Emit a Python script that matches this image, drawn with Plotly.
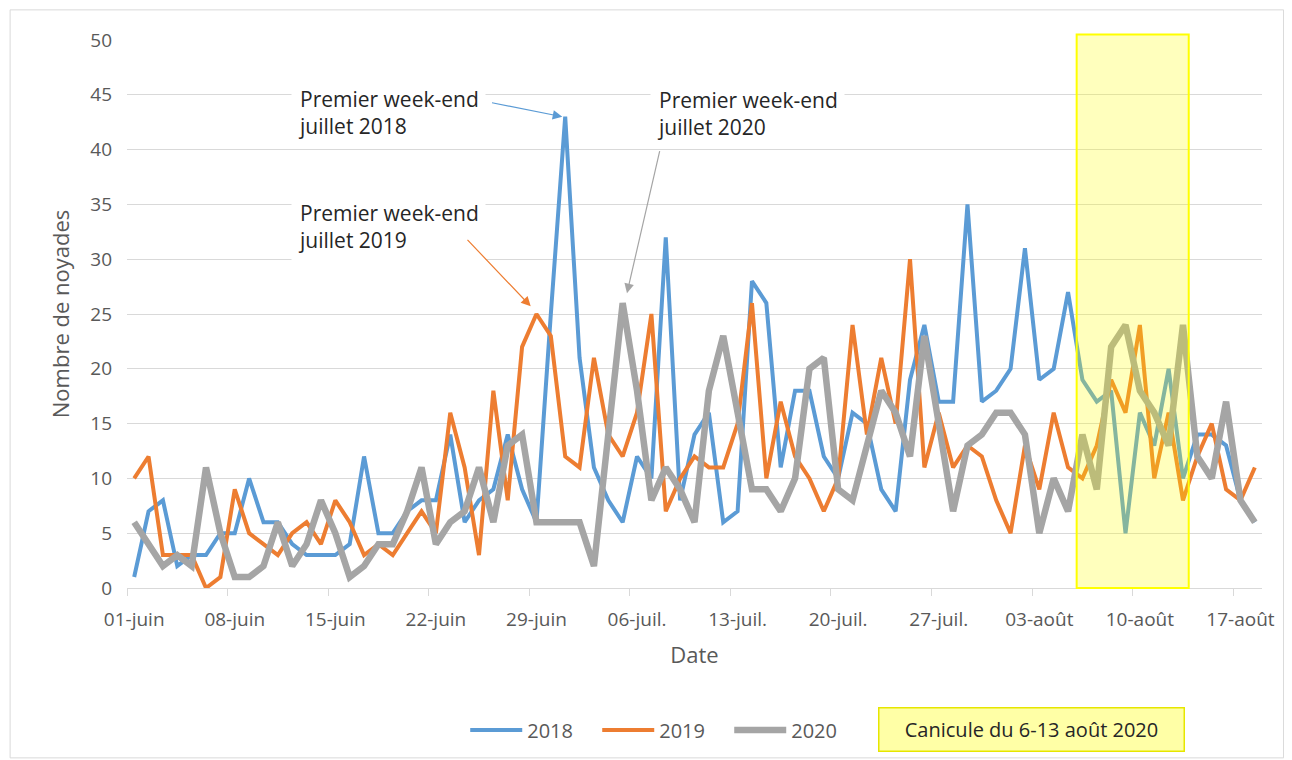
import plotly.graph_objects as go

# ---- data ----
tick_labels = ["01-juin", "08-juin", "15-juin", "22-juin", "29-juin", "06-juil.",
               "13-juil.", "20-juil.", "27-juil.", "03-août", "10-août", "17-août"]

y2018 = [1, 7, 8, 2, 3, 3, 5, 5, 10, 6, 6, 4, 3, 3, 3, 4, 12, 5, 5, 7,
         8, 8, 14, 6, 8, 9, 14, 9, 6, 25, 43, 21, 11, 8, 6, 12, 10, 32, 8, 14,
         16, 6, 7, 28, 26, 11, 18, 18, 12, 10, 16, 15, 9, 7, 19, 24, 17, 17, 35, 17,
         18, 20, 31, 19, 20, 27, 19, 17, 18, 5, 16, 13, 20, 10, 14, 14, 13, 8, 6]
y2019 = [10, 12, 3, 3, 3, 0, 1, 9, 5, 4, 3, 5, 6, 4, 8, 6, 3, 4, 3, 5,
         7, 5, 16, 11, 3, 18, 8, 22, 25, 23, 12, 11, 21, 14, 12, 16, 25, 7, 10, 12,
         11, 11, 15, 26, 10, 17, 12, 10, 7, 10, 24, 14, 21, 15, 30, 11, 16, 11, 13, 12,
         8, 5, 13, 9, 16, 11, 10, 13, 19, 16, 24, 10, 16, 8, 12, 15, 9, 8, 11]
y2020 = [6, 4, 2, 3, 2, 11, 5, 1, 1, 2, 6, 2, 4, 8, 5, 1, 2, 4, 4, 7,
         11, 4, 6, 7, 11, 6, 13, 14, 6, 6, 6, 6, 2, 14, 26, 18, 8, 11, 9, 6,
         18, 23, 16, 9, 9, 7, 10, 20, 21, 9, 8, 13, 18, 16, 12, 23, 15, 7, 13, 14,
         16, 16, 14, 5, 10, 7, 14, 9, 22, 24, 18, 16, 13, 24, 12, 10, 17, 8, 6]

days = list(range(len(y2018)))
tick_days = [7 * k for k in range(len(tick_labels))]
boundary_days = [7 * k - 0.5 for k in range(len(tick_labels) + 1)]
heat_start, heat_end = 65.6, 73.4

FONT = "Open Sans"
TXT = "#595959"

fig = go.Figure()
fig.add_trace(go.Scatter(x=days, y=y2018, name="2018", mode="lines",
                         line=dict(color="#5B9BD5", width=4)))
fig.add_trace(go.Scatter(x=days, y=y2019, name="2019", mode="lines",
                         line=dict(color="#ED7D31", width=4)))
fig.add_trace(go.Scatter(x=days, y=y2020, name="2020", mode="lines",
                         line=dict(color="#A5A5A5", width=6.5)))

# heat-wave box
fig.add_shape(type="rect", xref="x", yref="paper", x0=heat_start, x1=heat_end, y0=0, y1=1.01,
              fillcolor="rgba(255,255,0,0.26)", line=dict(color="#FFFF00", width=2), layer="above")

# outer frame
fig.add_shape(type="rect", xref="paper", yref="paper", x0=-0.103, x1=1.019, y0=-0.31, y1=1.055,
              line=dict(color="#D9D9D9", width=1), fillcolor="rgba(0,0,0,0)")

ann_font = dict(family=FONT, size=21, color="#262626")
texts = [
    ("Premier week-end<br>juillet 2018", 10.9, 43.4),
    ("Premier week-end<br>juillet 2019", 10.9, 33.0),
    ("Premier week-end<br>juillet 2020", 35.9, 43.3),
]
for t, x, y in texts:
    fig.add_annotation(text=t, x=x, y=y, xref="x", yref="y", xanchor="left", yanchor="middle",
                       align="left", showarrow=False, font=ann_font, bgcolor="white",
                       borderpad=6)

arrows = [
    (29.8, 43.0, 24.8, 44.3, "#5B9BD5"),
    (27.6, 25.7, 23.1, 31.9, "#ED7D31"),
    (34.3, 26.9, 36.6, 40.0, "#A5A5A5"),
]
for x, y, ax, ay, c in arrows:
    fig.add_annotation(text="", x=x, y=y, ax=ax, ay=ay, xref="x", yref="y", axref="x", ayref="y",
                       showarrow=True, arrowhead=2, arrowsize=1.6, arrowwidth=1.2, arrowcolor=c)

fig.add_annotation(text="Canicule du 6-13 août 2020", xref="paper", yref="paper",
                   x=0.797, y=-0.259, xanchor="center", yanchor="middle", showarrow=False,
                   font=dict(family=FONT, size=20, color="#262626"), width=290, height=28,
                   bgcolor="#FFFFA6", bordercolor="#E6E600", borderwidth=1.5, borderpad=7)

fig.update_layout(
    width=1284, height=752,
    margin=dict(l=119, r=30, t=32, b=172, autoexpand=False),
    paper_bgcolor="white", plot_bgcolor="white",
    font=dict(family=FONT, color=TXT, size=19),
    showlegend=True,
    legend=dict(orientation="h", x=0.298, y=-0.259, xanchor="left", yanchor="middle",
                font=dict(size=20, color=TXT), entrywidth=65, itemwidth=52),
    xaxis=dict(range=[-0.5, 78.5], tickvals=tick_days, ticktext=tick_labels,
               showgrid=False, zeroline=False, showline=True, linecolor="#D9D9D9",
               ticks="", tickfont=dict(size=19, color=TXT), ticklabelstandoff=14,
               minor=dict(tickmode="array", tickvals=boundary_days, ticks="outside",
                          ticklen=7, tickcolor="#D9D9D9", showgrid=False),
               title=dict(text="Date", font=dict(size=22, color=TXT), standoff=16)),
    yaxis=dict(range=[0, 50], dtick=5, showgrid=True, gridcolor="#D9D9D9", gridwidth=1,
               zeroline=False, showline=False, ticks="", tickfont=dict(size=19, color=TXT),
               ticklabelstandoff=14,
               title=dict(text="Nombre de noyades", font=dict(size=22, color=TXT), standoff=14)),
)

fig.write_html("out.html")
